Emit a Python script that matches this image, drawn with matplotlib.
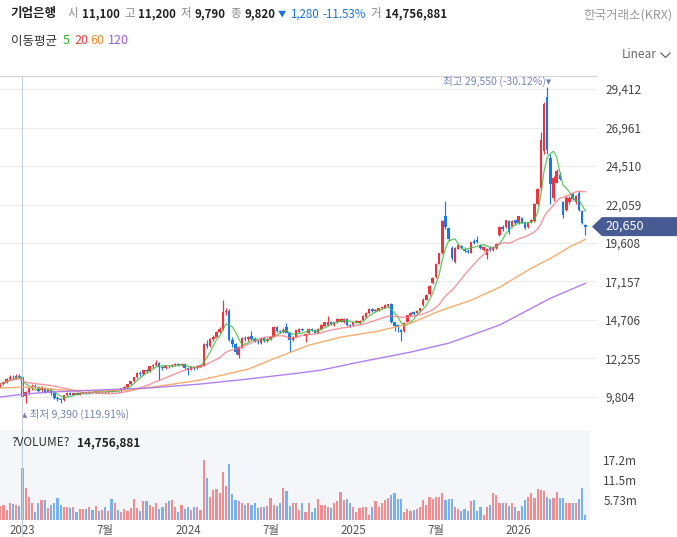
import matplotlib
matplotlib.use('Agg')
import matplotlib.pyplot as plt
import matplotlib.transforms as mtrans
from matplotlib.patches import Polygon
from matplotlib.lines import Line2D
import numpy as np
import pandas as pd

plt.rcParams['font.family'] = ['Noto Sans CJK KR', 'DejaVu Sans']

# ---------------- data (weekly candles) ----------------
opens = [
    10500, 10650, 10750, 10950, 11100, 11000, 11150, 11100, 9850, 10100,
    10350, 10500, 10450, 10250, 10400, 10150, 10300, 10050, 9750, 9700,
    9600, 9900, 10050, 9950, 10050, 9950, 10050, 10100, 10050, 10150,
    10100, 10200, 10100, 10150, 10100, 10200, 10150, 10250, 10200, 10350,
    10450, 10600, 10800, 11050, 11350, 11250, 11500, 11450, 11750, 11850,
    12000, 11700, 11650, 11800, 11750, 11850, 11900, 11850, 11900, 11650,
    11550, 11700, 11650, 11800, 11800, 13150, 13050, 13500, 13650, 13950,
    14150, 15200, 15300, 13450, 13150, 12450, 13000, 13550, 13500, 13700,
    13500, 13350, 13250, 13550, 13350, 13500, 13650, 14250, 14000, 13950,
    14250, 13900, 13450, 13650, 13950, 14150, 13700, 13850, 14150, 14100,
    13900, 14150, 14350, 14400, 14600, 14400, 14550, 14600, 14550, 14800,
    14400, 14400, 14550, 14500, 14700, 14900, 15150, 15400, 15250, 15300,
    15450, 15500, 15600, 15700, 14550, 14400, 14100, 14000, 14600, 15000,
    15200, 15150, 15250, 15650, 16000, 16350, 17050, 17450, 18300, 18950,
    21350, 20550, 19300, 18400, 19250, 19400, 19250, 19100, 19000, 19750,
    19800, 19450, 19150, 18850, 19300, 19150, 19300, 20100, 20650, 20600,
    21000, 20700, 21050, 20850, 21200, 20850, 20600, 20950, 21000, 22100,
    23100, 25450, 28900, 25050, 22500, 23450, 23950, 22200, 21700, 22200,
    22700, 22200, 22800, 21650, 20750,
]
highs = [
    10700, 10800, 11000, 11200, 11200, 11250, 11250, 11200, 10200, 10400,
    10600, 10600, 10500, 10500, 10450, 10400, 10350, 10100, 9850, 9750,
    9950, 10150, 10100, 10100, 10100, 10100, 10150, 10150, 10200, 10200,
    10250, 10250, 10200, 10200, 10250, 10300, 10300, 10300, 10400, 10500,
    10650, 10850, 11100, 11400, 11450, 11550, 11600, 11800, 11900, 12150,
    12050, 11800, 11850, 11850, 11900, 11950, 11950, 11950, 11950, 11700,
    11750, 11750, 11850, 11900, 13250, 13450, 13550, 13750, 14000, 14250,
    15950, 15500, 15400, 13600, 13250, 13050, 13650, 13700, 13700, 14000,
    13600, 13450, 13600, 13600, 13550, 13700, 14350, 14300, 14100, 14200,
    14500, 13950, 13700, 14100, 14200, 14200, 13850, 14200, 14200, 14150,
    14200, 14450, 14600, 14950, 14650, 14600, 14850, 14850, 14850, 14850,
    14450, 14600, 14700, 14700, 15000, 15200, 15450, 15450, 15400, 15500,
    15600, 15700, 15750, 15800, 14600, 14450, 14150, 14550, 15050, 15200,
    15300, 15350, 15500, 16100, 16350, 16950, 17450, 18350, 19000, 21100,
    22300, 20650, 19400, 19350, 19550, 19500, 19350, 19200, 19700, 19850,
    20050, 19550, 19400, 19300, 19400, 19400, 19600, 20700, 20750, 21100,
    21050, 21050, 21100, 21350, 21250, 20900, 20950, 21150, 22150, 23100,
    26700, 28600, 29550, 25300, 23850, 24300, 24100, 22300, 22600, 22600,
    22800, 22650, 22900, 21700, 20800,
]
lows = [
    10450, 10550, 10700, 10900, 10950, 10950, 11000, 9790, 9390, 10000,
    10250, 10350, 10100, 10150, 10050, 10100, 9950, 9700, 9550, 9450,
    9550, 9850, 9900, 9900, 9900, 9900, 10000, 10000, 10000, 10050,
    10050, 10050, 10050, 10050, 10050, 10100, 10100, 10150, 10150, 10300,
    10400, 10550, 10750, 11000, 11150, 11200, 11350, 11400, 11650, 11800,
    10900, 11550, 11600, 11650, 11700, 11750, 11750, 11800, 11600, 11200,
    11500, 11550, 11600, 11700, 11750, 12950, 13000, 13400, 13600, 13900,
    14100, 15000, 13350, 13000, 12550, 12300, 12950, 13400, 13400, 13450,
    13300, 13200, 13200, 13300, 13300, 13450, 13600, 13950, 13900, 13900,
    13850, 12700, 13400, 13600, 13900, 14000, 13300, 13800, 14000, 13850,
    13850, 14100, 14300, 14350, 14400, 14350, 14500, 14550, 14500, 14350,
    14250, 14350, 14500, 14450, 14650, 14850, 15100, 15200, 15200, 15250,
    15400, 15450, 15550, 14500, 14000, 13950, 13350, 13950, 14550, 14950,
    15000, 15100, 15200, 15600, 15950, 16300, 17000, 17400, 18250, 18900,
    20500, 19750, 18550, 18350, 19200, 19200, 19050, 18950, 18950, 19550,
    19600, 19250, 19100, 18600, 19100, 19100, 19250, 20050, 20400, 20550,
    20200, 20650, 20800, 20800, 20850, 20500, 20550, 20900, 20950, 22050,
    23000, 25300, 25300, 22100, 22300, 23400, 23600, 21200, 21650, 22100,
    22350, 22100, 21650, 20800, 20100,
]
closes = [
    10650, 10750, 10950, 11100, 11050, 11150, 11100, 9820, 10100, 10350,
    10500, 10450, 10200, 10400, 10150, 10300, 10050, 9750, 9650, 9600,
    9900, 10050, 9950, 10050, 9950, 10050, 10100, 10050, 10150, 10100,
    10200, 10100, 10150, 10100, 10200, 10150, 10250, 10200, 10350, 10450,
    10600, 10800, 11050, 11350, 11250, 11500, 11450, 11750, 11850, 12000,
    11700, 11650, 11800, 11750, 11850, 11900, 11850, 11900, 11650, 11550,
    11700, 11650, 11800, 11850, 13150, 13050, 13500, 13650, 13950, 14150,
    15200, 15300, 13450, 13150, 12650, 13000, 13550, 13500, 13650, 13500,
    13350, 13300, 13550, 13350, 13500, 13650, 14250, 14000, 13950, 14100,
    13900, 13450, 13650, 14050, 14150, 14050, 13800, 14150, 14050, 13900,
    14150, 14400, 14550, 14600, 14450, 14550, 14800, 14800, 14800, 14400,
    14300, 14550, 14650, 14650, 14950, 15150, 15400, 15250, 15350, 15450,
    15550, 15650, 15700, 14550, 14350, 14250, 13950, 14500, 15000, 15150,
    15100, 15300, 15450, 16000, 16300, 16900, 17400, 18300, 18950, 21000,
    20600, 19850, 18650, 19300, 19450, 19300, 19100, 19050, 19650, 19600,
    19650, 19300, 19350, 19250, 19150, 19350, 19550, 20650, 20500, 21050,
    20300, 21000, 20850, 21300, 20900, 20550, 20900, 21100, 22100, 23050,
    26150, 28450, 25550, 23350, 23750, 24200, 23700, 21400, 22500, 22500,
    22400, 22600, 21700, 20850, 20650,
]
volumes_m = [
    4.0, 4.3, 2.9, 5.0, 4.5, 4.2, 4.0, 14.756881, 9.2, 6.7,
    5.0, 2.4, 5.0, 5.7, 5.7, 3.3, 4.3, 5.0, 6.4, 4.3,
    3.7, 3.8, 3.3, 3.6, 2.4, 3.1, 3.1, 3.1, 3.6, 2.9,
    4.0, 2.7, 2.9, 3.6, 2.7, 6.0, 5.0, 2.9, 2.4, 3.1,
    2.7, 3.3, 6.0, 3.3, 2.7, 5.4, 5.4, 4.3, 3.6, 5.0,
    3.1, 3.6, 5.0, 5.4, 5.7, 3.6, 2.4, 4.3, 3.1, 3.6,
    2.9, 3.6, 3.6, 3.0, 17.2, 11.9, 6.7, 8.6, 8.8, 7.8,
    13.8, 9.7, 16.0, 7.4, 5.7, 5.4, 5.0, 4.3, 4.8, 4.3,
    4.8, 3.3, 3.6, 3.6, 4.0, 6.4, 4.3, 4.0, 5.0, 9.2,
    8.4, 4.0, 5.0, 5.0, 2.9, 4.8, 2.4, 4.8, 2.4, 3.3,
    6.0, 4.3, 4.3, 3.6, 3.3, 4.8, 5.4, 8.1, 5.7, 6.0,
    4.8, 3.6, 2.4, 3.3, 3.6, 3.6, 1.4, 3.6, 5.4, 3.6,
    4.8, 5.7, 6.4, 7.2, 7.8, 6.0, 6.0, 2.4, 3.1, 2.7,
    2.9, 3.1, 3.6, 5.7, 4.3, 6.7, 6.0, 6.7, 6.7, 7.8,
    5.7, 6.0, 6.0, 3.6, 3.1, 2.7, 3.1, 2.7, 5.4, 5.7,
    2.7, 3.6, 1.4, 3.6, 4.3, 7.6, 7.2, 4.8, 5.0, 4.8,
    4.0, 4.8, 3.6, 2.7, 4.0, 5.7, 6.7, 7.6, 6.4, 8.8,
    8.6, 8.4, 6.7, 6.0, 6.4, 8.1, 6.4, 6.4, 4.8, 4.8,
    4.8, 4.8, 6.0, 9.2, 1.4,
]
# moving averages 60 / 120 (week index, price)
ma60_idx = [0, 9, 19, 31, 41, 50, 63, 78, 88, 97, 107, 119, 129, 138, 148, 157, 167, 173, 179, 184]
ma60_val = [10380, 10440, 10250, 10190, 10250, 10500, 10880, 11580, 12400, 13100,
            13610, 14000, 14500, 15270, 15960, 16790, 18000, 18630, 19350, 19840]
ma120_idx = [0, 8, 16, 31, 47, 63, 78, 94, 101, 113, 129, 141, 157, 173, 184]
ma120_val = [9800, 10000, 10120, 10250, 10380, 10630, 10950, 11330, 11520, 12030,
             12660, 13230, 14380, 16090, 17040]

price_ticks = [9804, 12255, 14706, 17157, 19608, 22059, 24510, 26961, 29412]
vol_ticks = [5.73, 11.46, 17.19]
vol_tick_labels = ['5.73m', '11.5m', '17.2m']
xtick_pos = [7, 33, 59, 85, 111, 137, 163]
xtick_labels = ['2023', '7월', '2024', '7월', '2025', '7월', '2026']
hover = 7  # crosshair candle

# ---------------- figure ----------------
W, H = 677, 537
fig = plt.figure(figsize=(W / 100, H / 100), dpi=100)
fig.patch.set_facecolor('white')


def fx(x):
    return x / W


def fy(y):
    return 1 - y / H


RED = '#e8363c'
BLUE = '#1d76e6'
VRED = '#f08d91'
VBLUE = '#78b1f0'

n = len(closes)
idx = np.arange(n)
o = np.array(opens, float)
c = np.array(closes, float)
hi = np.array(highs, float)
lo = np.array(lows, float)
up = c >= o
col = np.where(up, RED, BLUE)

step = 3.18
x0 = -0.24 / step
ax = fig.add_axes([fx(0), fy(428), fx(597), (428 - 76) / H])
ax.set_xlim(x0, x0 + 597 / step)
ax.set_ylim(7830, 30240)
ax.set_facecolor('none')

ax.set_yticks(price_ticks)
ax.set_yticklabels([f'{v:,}' for v in price_ticks])
ax.yaxis.tick_right()
ax.tick_params(axis='y', length=0, pad=6, labelsize=8.5, labelcolor='#444444')
ax.set_xticks([])
ax.grid(axis='y', color='#ececec', linewidth=0.8)
ax.set_axisbelow(True)
for s in ['left', 'right', 'bottom']:
    ax.spines[s].set_visible(False)
ax.spines['top'].set_color('#d6d6d6')
ax.spines['top'].set_linewidth(0.8)

# candles
ax.vlines(idx, lo, hi, colors=col, linewidth=0.85, zorder=3)
body = np.maximum(np.abs(c - o), 45)
ax.bar(idx, body, bottom=np.minimum(o, c), width=0.78, color=col, linewidth=0, zorder=3)

# moving averages
s = pd.Series(c)
ma5 = s.rolling(5, min_periods=1).mean()
ma20 = s.rolling(20, min_periods=1).mean()
ax.plot(idx, ma5, color='#46c046', linewidth=0.9, alpha=0.85, zorder=4)
ax.plot(idx, ma20, color='#f27580', linewidth=1.0, alpha=0.75, zorder=4)
ax.plot(ma60_idx, ma60_val, color='#f6a45e', linewidth=1.0, alpha=0.9, zorder=4)
ax.plot(ma120_idx, ma120_val, color='#a872f0', linewidth=1.0, alpha=0.9, zorder=4)

# high / low markers
peak = int(np.argmax(hi))
trough = int(np.argmin(lo))
last = c[-1]
mk_col = '#7385b5'
blend = mtrans.blended_transform_factory(ax.transData, fig.transFigure)
ax.annotate(f'최고 {int(hi[peak]):,} ({(last - hi[peak]) / hi[peak] * 100:.2f}%)▾',
            xy=(peak, fy(81)), xycoords=blend, xytext=(4, 0), textcoords='offset pixels',
            ha='right', va='center', fontsize=7.6, color=mk_col, annotation_clip=False)
ax.annotate(f'▴ 최저 {int(lo[trough]):,} ({(last - lo[trough]) / lo[trough] * 100:.2f}%)',
            xy=(trough, fy(414)), xycoords=blend, xytext=(-4, 0), textcoords='offset pixels',
            ha='left', va='center', fontsize=7.6, color=mk_col, annotation_clip=False)

# last price label
yd = ax.transData.transform((0, last))[1]
yc = H - yd
poly = Polygon([(fx(592), fy(yc)), (fx(602), fy(yc - 9.5)), (fx(677), fy(yc - 9.5)),
                (fx(677), fy(yc + 9.5)), (fx(602), fy(yc + 9.5))],
               closed=True, transform=fig.transFigure, facecolor='#475a92', edgecolor='none')
fig.patches.append(poly)
fig.text(fx(605), fy(yc), f'{int(last):,}', color='white', fontsize=9, va='center', ha='left')

# ---------------- volume ----------------
vax = fig.add_axes([fx(0), fy(520), fx(590), 90 / H])
vax.set_xlim(x0, x0 + 590 / step)
vax.set_ylim(0, 90 * 5.73 / 20)
vax.set_facecolor('#f5f6f9')
vcol = np.where(up, VRED, VBLUE)
vax.bar(idx, volumes_m, width=0.68, color=vcol, linewidth=0, zorder=3)
vax.set_yticks(vol_ticks)
vax.set_yticklabels(vol_tick_labels)
vax.yaxis.tick_right()
vax.tick_params(axis='y', length=0, pad=9.5, labelsize=8.5, labelcolor='#444444')
vax.set_xticks(xtick_pos)
vax.set_xticklabels(xtick_labels)
vax.tick_params(axis='x', length=0, pad=3, labelsize=8.3, labelcolor='#555555')
for sp in vax.spines.values():
    sp.set_visible(False)

# crosshair through both panels down to the bottom edge
xh = ax.transData.transform((hover, 0))[0] / W
fig.add_artist(Line2D([xh, xh], [fy(76), 0], transform=fig.transFigure,
                      color='#c8cfda', linewidth=0.8, zorder=1))

fig.text(fx(11), fy(443), '?VOLUME?', fontsize=8.5, color='#333333', va='center')
fig.text(fx(77), fy(443), f'{int(round(volumes_m[hover] * 1e6)):,}', fontsize=8.5,
         color='#222222', fontweight='bold', va='center')

# ---------------- header ----------------
prev = closes[hover - 1]
chg = closes[hover] - prev
pct = chg / prev * 100
GREY = '#888888'
DARK = '#222222'
BLU = '#1a73e8'
renderer = fig.canvas.get_renderer()
items = [
    ('기업은행', DARK, 'bold', 9, 11),
    ('시', GREY, 'normal', 8.3, 3),
    (f'{opens[hover]:,}', DARK, 'bold', 8.3, 5),
    ('고', GREY, 'normal', 8.3, 3),
    (f'{highs[hover]:,}', DARK, 'bold', 8.3, 5),
    ('저', GREY, 'normal', 8.3, 3),
    (f'{lows[hover]:,}', DARK, 'bold', 8.3, 5),
    ('종', GREY, 'normal', 8.3, 3),
    (f'{closes[hover]:,}', DARK, 'bold', 8.3, 3),
    ('▼', BLU, 'normal', 6.0, 3),
    (f'{abs(chg):,}', BLU, 'normal', 8.3, 4),
    (f'{pct:.2f}%', BLU, 'normal', 8.3, 5),
    ('거', GREY, 'normal', 8.3, 3),
    (f'{int(round(volumes_m[hover] * 1e6)):,}', DARK, 'bold', 8.3, 0),
]
xpos = 11
for t, cc, w, fs, gap in items:
    tt = fig.text(fx(xpos), fy(14), t, color=cc, fontweight=w, fontsize=fs, va='center', ha='left')
    xpos += tt.get_window_extent(renderer).width + gap
fig.text(fx(672), fy(15), '한국거래소(KRX)', color='#999999', fontsize=9, va='center', ha='right')

fig.text(fx(11), fy(41), '이동평균', color='#333333', fontsize=9, va='center')
for t, x, cc in [('5', 63, '#22b322'), ('20', 74, '#f03e3e'), ('60', 90, '#f08c2e'), ('120', 108, '#9b5de5')]:
    fig.text(fx(x), fy(41), t, color=cc, fontsize=9, va='center')

fig.text(fx(622), fy(55), 'Linear', color='#666666', fontsize=8.5, va='center')
fig.add_artist(Line2D([fx(661), fx(665.5), fx(670)], [fy(53), fy(57.5), fy(53)],
                      transform=fig.transFigure, color='#666666', linewidth=0.9))

fig.savefig('out.png', dpi=100, facecolor='white')
